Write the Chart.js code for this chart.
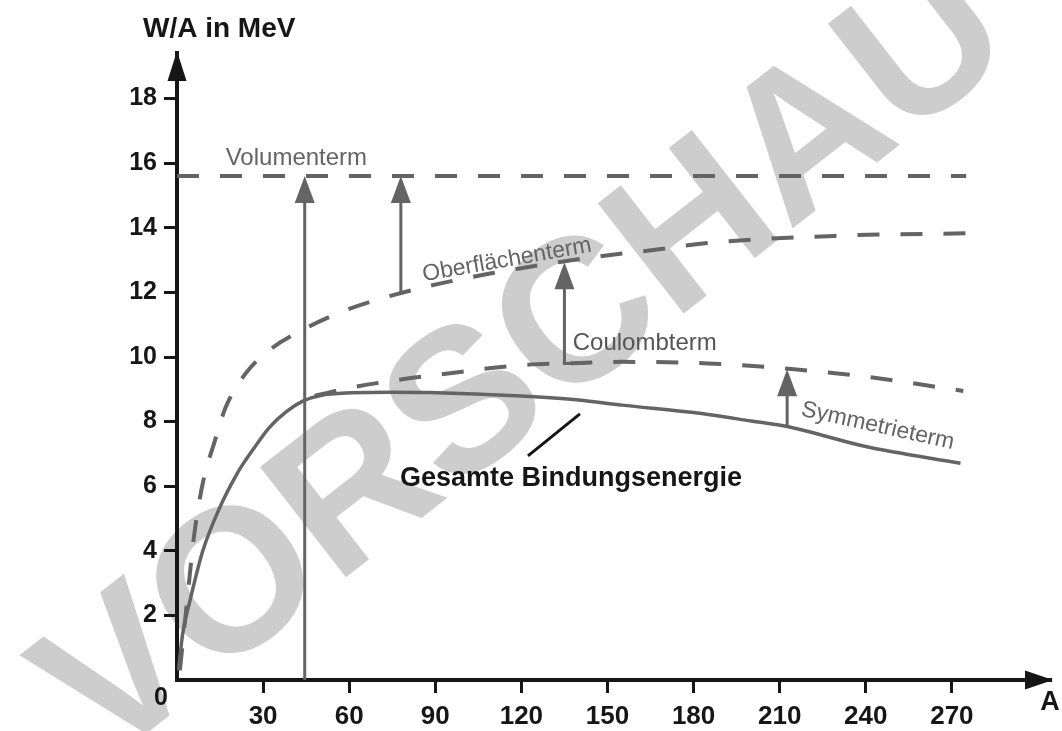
<!DOCTYPE html>
<html>
<head>
<meta charset="utf-8">
<script src="https://cdn.jsdelivr.net/npm/chart.js@4.4.1/dist/chart.umd.min.js"></script>
<style>html,body{margin:0;padding:0;background:#fff;} canvas{display:block;}</style>
</head>
<body>
<canvas id="c" width="1062" height="731"></canvas>
<script>
// tick labels
const xTicks = [30, 60, 90, 120, 150, 180, 210, 240, 270];
const yTicks = [2, 4, 6, 8, 10, 12, 14, 16, 18];

// Volumenterm
const volA = [0, 275];
const volW = [15.6, 15.6];

// Oberflächenterm
const oberA = [1, 3, 6, 9, 13, 17, 24, 32, 44, 56, 67, 87, 110, 120, 134, 151, 166, 184, 229, 275];
const oberW = [0.3, 2.0, 4.5, 6.1, 7.35, 8.45, 9.5, 10.2, 10.85, 11.35, 11.7, 12.18, 12.6, 12.75, 12.95, 13.16, 13.31, 13.52, 13.75, 13.83];

// Coulombterm
const coulA = [48, 60, 77, 90, 120, 135, 155, 185, 215, 240, 274];
const coulW = [8.8, 9.04, 9.29, 9.44, 9.75, 9.8, 9.85, 9.8, 9.62, 9.39, 8.95];

// Gesamte Bindungsenergie
const gesA = [0.5, 2, 4.5, 9, 15, 21, 24, 27, 32, 38, 44, 50, 61, 75, 88, 120, 140, 155, 180, 200, 213, 240, 273];
const gesW = [0.3, 1.45, 2.45, 4.0, 5.36, 6.4, 6.82, 7.2, 7.8, 8.3, 8.64, 8.81, 8.89, 8.91, 8.9, 8.79, 8.67, 8.51, 8.28, 8.02, 7.84, 7.23, 6.71];

// Pfeile zwischen den Termen
const arrowA = [44.5, 78, 135, 212.6];
const arrowFrom = [0, 11.96, 9.8, 7.84];
const arrowTo = [15.6, 15.6, 12.93, 9.62];

const FONT = '"Liberation Sans", Arial, Helvetica, sans-serif';
const GRAY = '#646464';
const INK = '#161616';

const pts = (xs, ys) => xs.map((x, i) => ({ x: x, y: ys[i] }));

function head(ctx, x, y, dx, dy, len, half) {
    // tip at (x,y), pointing along (dx,dy)
    ctx.beginPath();
    ctx.moveTo(x, y);
    ctx.lineTo(x - dx * len - dy * half, y - dy * len + dx * half);
    ctx.lineTo(x - dx * len + dy * half, y - dy * len - dx * half);
    ctx.closePath(); ctx.fill();
}

const decor = {
    id: 'decor',
    beforeDraw(chart) {
        const ctx = chart.ctx;
        ctx.save();
        ctx.fillStyle = '#fff'; ctx.fillRect(0, 0, chart.width, chart.height);
        // Wasserzeichen
        ctx.translate(517, 351); ctx.rotate(-38 * Math.PI / 180);
        ctx.font = 'bold 203px ' + FONT; ctx.fillStyle = '#cdcdcd';
        ctx.textAlign = 'center'; ctx.textBaseline = 'alphabetic';
        ctx.fillText('VORSCHAU', 0, 73);
        ctx.restore();
    },
    afterDatasetsDraw(chart) {
        const ctx = chart.ctx, x = chart.scales.x, y = chart.scales.y;
        ctx.save();
        ctx.strokeStyle = GRAY; ctx.fillStyle = GRAY; ctx.lineWidth = 3;
        arrowA.forEach((a, i) => {
            const px = x.getPixelForValue(a), y0 = y.getPixelForValue(arrowFrom[i]), y1 = y.getPixelForValue(arrowTo[i]);
            ctx.beginPath(); ctx.moveTo(px, y0); ctx.lineTo(px, y1 + 20); ctx.stroke();
            if (i === 2) { ctx.beginPath(); ctx.moveTo(px - 1.5, y0); ctx.lineTo(px + 21, y0); ctx.stroke(); }
            head(ctx, px, y1, 0, -1, 27, 10);
        });

        const notes = [
            { t: 'Volumenterm', a: 41.6, w: 16.16, r: 0, f: '24px ', c: GRAY },
            { t: 'Oberflächenterm', a: 115, w: 13.0, r: -10, f: '23px ', c: GRAY },
            { t: 'Coulombterm', a: 163, w: 10.43, r: 0, f: '24px ', c: '#555' },
            { t: 'Symmetrieterm', a: 244.2, w: 7.86, r: 12.5, f: '23px ', c: GRAY },
            { t: 'Gesamte Bindungsenergie', a: 137.3, w: 6.25, r: 0, f: 'bold 27px ', c: INK }
        ];
        ctx.textAlign = 'center'; ctx.textBaseline = 'middle';
        notes.forEach(n => {
            ctx.save();
            ctx.translate(x.getPixelForValue(n.a), y.getPixelForValue(n.w));
            ctx.rotate(n.r * Math.PI / 180);
            ctx.font = n.f + FONT; ctx.fillStyle = n.c;
            ctx.fillText(n.t, 0, 0);
            ctx.restore();
        });

        // Hinweislinie zur Gesamtkurve
        ctx.strokeStyle = INK; ctx.lineWidth = 3;
        ctx.beginPath();
        ctx.moveTo(x.getPixelForValue(122.3), y.getPixelForValue(6.94));
        ctx.lineTo(x.getPixelForValue(140.4), y.getPixelForValue(8.24));
        ctx.stroke();
        ctx.restore();
    },
    afterDraw(chart) {
        const ctx = chart.ctx, ca = chart.chartArea;
        ctx.save();
        ctx.fillStyle = INK; ctx.strokeStyle = INK; ctx.lineWidth = 4;
        ctx.beginPath(); ctx.moveTo(ca.left, ca.top); ctx.lineTo(ca.left, ca.top - 4); ctx.stroke();
        ctx.beginPath(); ctx.moveTo(ca.right, ca.bottom); ctx.lineTo(ca.right + 4, ca.bottom); ctx.stroke();
        head(ctx, ca.left, ca.top - 4, 0, -1, 30, 9.5);
        head(ctx, ca.right + 5, ca.bottom, 1, 0, 28, 9.5);

        ctx.textAlign = 'left'; ctx.textBaseline = 'middle';
        ctx.font = 'bold 28px ' + FONT;
        ctx.fillText('W/A in MeV', 143, 29);
        ctx.textAlign = 'center';
        ctx.font = 'bold 25px ' + FONT;
        ctx.fillText('0', 161, 698);
        ctx.font = 'bold 27px ' + FONT;
        ctx.fillText('A', 1050, 703);
        ctx.restore();
    }
};

const line = (label, xs, ys, dashed) => ({
    label: label,
    data: pts(xs, ys),
    borderColor: GRAY,
    borderWidth: dashed ? 4 : 3.5,
    borderDash: dashed ? [22, 21] : [],
    pointRadius: 0,
    fill: false,
    cubicInterpolationMode: 'monotone'
});

new Chart(document.getElementById('c'), {
    type: 'line',
    data: {
        datasets: [
            line('Volumenterm', volA, volW, true),
            line('Oberflächenterm', oberA, oberW, true),
            line('Coulombterm', coulA, coulW, true),
            line('Gesamte Bindungsenergie', gesA, gesW, false)
        ]
    },
    options: {
        responsive: false,
        animation: false,
        devicePixelRatio: 1,
        layout: { padding: { left: 0, top: 55, right: 14, bottom: 0 } },
        plugins: { legend: { display: false }, tooltip: { enabled: false }, title: { display: false } },
        scales: {
            x: {
                type: 'linear', min: 0, max: 303.5,
                afterBuildTicks: s => { s.ticks = xTicks.map(v => ({ value: v })); },
                afterFit: s => { s.height = 51; },
                ticks: { autoSkip: false, maxRotation: 0, padding: 8, color: INK, font: { family: FONT, size: 26, weight: 'bold' } },
                grid: { drawOnChartArea: false, drawTicks: true, tickLength: 13, tickWidth: 3, tickColor: INK },
                border: { display: true, color: INK, width: 4 }
            },
            y: {
                type: 'linear', min: 0, max: 19.35,
                afterBuildTicks: s => { s.ticks = yTicks.map(v => ({ value: v })); },
                afterFit: s => { s.width = 177; },
                ticks: { padding: 7, color: INK, font: { family: FONT, size: 25, weight: 'bold' } },
                grid: { drawOnChartArea: false, drawTicks: true, tickLength: 13, tickWidth: 3, tickColor: INK },
                border: { display: true, color: INK, width: 4 }
            }
        }
    },
    plugins: [decor]
});
</script>
</body>
</html>
